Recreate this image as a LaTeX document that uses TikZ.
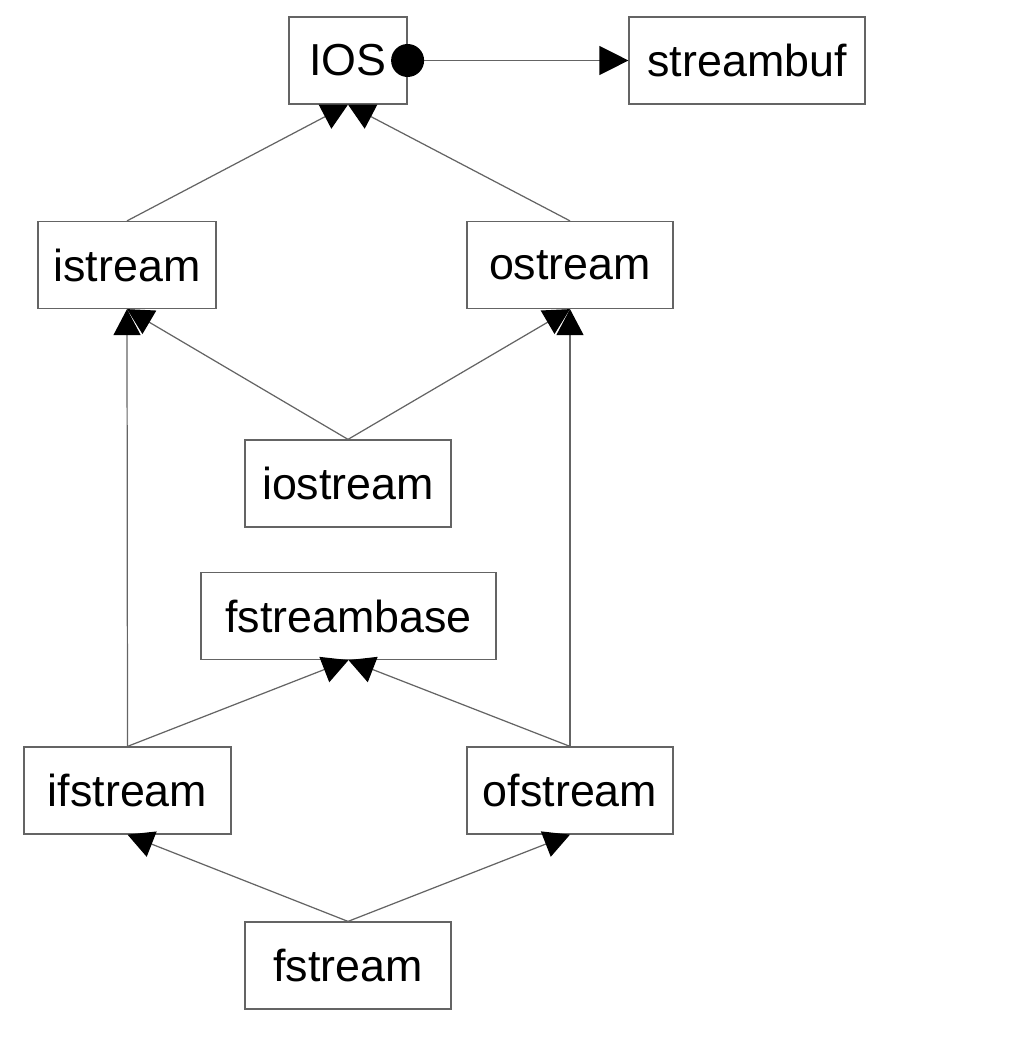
\documentclass[tikz,border=0pt]{standalone}
\usepackage{fontspec}
\setmainfont{Liberation Sans}
\usetikzlibrary{arrows.meta}
\definecolor{linegray}{RGB}{100,100,100}

\begin{document}
\begin{tikzpicture}[x=0.02cm, y=-0.02cm,
    cls/.style={draw=linegray, line width=0.7pt, minimum height=1.74cm,
      inner sep=0pt, font=\fontsize{25.5}{30}\selectfont},
    inh/.style={draw=linegray, line width=0.7pt,
      -{Triangle[length=0.52cm, width=0.54cm, color=black]}}]
  \useasboundingbox (0,0) rectangle (1011,1053);

  % classes
  \node[cls, minimum width=2.36cm] (ios) at (348,60.5) {IOS};
  \node[cls, minimum width=4.72cm] (streambuf) at (747,60.5) {streambuf};
  \node[cls, minimum width=3.56cm] (istream) at (127,265) {istream};
  \node[cls, minimum width=4.12cm] (ostream) at (570,265) {ostream};
  \node[cls, minimum width=4.12cm] (iostream) at (348,483.5) {iostream};
  \node[cls, minimum width=5.9cm] (fstreambase) at (348.5,616) {fstreambase};
  \node[cls, minimum width=4.14cm] (ifstream) at (127.5,790.5) {ifstream};
  \node[cls, minimum width=4.12cm] (ofstream) at (570,790.5) {ofstream};
  \node[cls, minimum width=4.12cm] (fstream) at (348,965.5) {fstream};

  % IOS has a streambuf
  \draw[inh, -{Triangle[length=0.58cm, width=0.58cm, color=black]}]
    (ios.east) -- (streambuf.west);
  \fill (ios.east) circle (0.33cm);

  % inheritance
  \draw[inh] (istream.north) -- (ios.south);
  \draw[inh] (ostream.north) -- (ios.south);
  \draw[inh] (iostream.north) -- (istream.south);
  \draw[inh] (iostream.north) -- (ostream.south);
  \draw[inh] (ifstream.north) -- (istream.south);
  \draw[inh] (ofstream.north) -- (ostream.south);
  \draw[inh] (ifstream.north) -- (fstreambase.south);
  \draw[inh] (ofstream.north) -- (fstreambase.south);
  \draw[inh] (fstream.north) -- (ifstream.south);
  \draw[inh] (fstream.north) -- (ofstream.south);
\end{tikzpicture}
\end{document}
